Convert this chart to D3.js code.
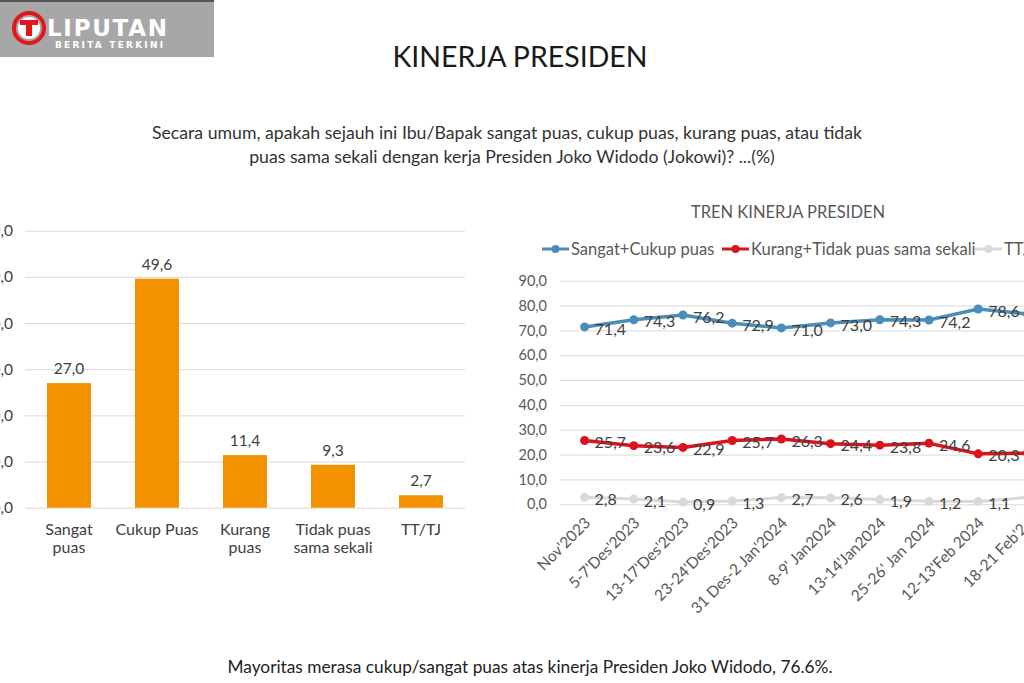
<!DOCTYPE html>
<html><head><meta charset="utf-8">
<script src="https://cdn.jsdelivr.net/npm/d3@7"></script>
<style>
html,body{margin:0;padding:0;background:#fff;overflow:hidden;}
svg{display:block;}
text{font-family:"Lato","Open Sans",sans-serif;}
</style></head>
<body>
<script>
// ---- data ----
const barCategories = [["Sangat","puas"],["Cukup Puas"],["Kurang","puas"],["Tidak puas","sama sekali"],["TT/TJ"]];
const barValues = [27.0, 49.6, 11.4, 9.3, 2.7];
const barTicks = [0,10,20,30,40,50,60];

const trendDates = ["Nov'2023","5-7'Des'2023","13-17'Des'2023","23-24'Des'2023","31 Des-2 Jan'2024","8-9' Jan2024","13-14'Jan2024","25-26' Jan 2024","12-13'Feb 2024","18-21 Feb'24"];
const puas = [71.4, 74.3, 76.2, 72.9, 71.0, 73.0, 74.3, 74.2, 78.6, 76.6];
const tidakPuas = [25.7, 23.6, 22.9, 25.7, 26.3, 24.4, 23.8, 24.6, 20.3, 20.6];
const ttTj = [2.8, 2.1, 0.9, 1.3, 2.7, 2.6, 1.9, 1.2, 1.1, 2.8];
const trendTicks = [0,10,20,30,40,50,60,70,80,90];
const seriesNames = ["Sangat+Cukup puas","Kurang+Tidak puas sama sekali","TT/TJ"];

const fmt = v => d3.format(".1f")(v).replace(".", ",");

const svg = d3.select("body").append("svg").attr("width",1024).attr("height",683);

// ---- logo ----
const logo = svg.append("g");
logo.append("rect").attr("x",0).attr("y",0).attr("width",214).attr("height",57).attr("fill","#a7a7a7");
logo.append("rect").attr("x",0).attr("y",0).attr("width",214).attr("height",2).attr("fill","#555");
logo.append("circle").attr("cx",29).attr("cy",28).attr("r",15).attr("fill","none").attr("stroke","#e3161c").attr("stroke-width",4);
logo.append("circle").attr("cx",29).attr("cy",28).attr("r",11).attr("fill","#fff");
logo.append("rect").attr("x",20).attr("y",20).attr("width",18).attr("height",5).attr("fill","#e3161c");
logo.append("rect").attr("x",26).attr("y",20).attr("width",6).attr("height",16).attr("fill","#e3161c");
logo.append("text").attr("x",47).attr("y",36).attr("fill","#fff").attr("font-weight","bold")
  .attr("font-size",23).style("font-family","'DejaVu Sans',sans-serif").attr("textLength",120).text("LIPUTAN");
logo.append("text").attr("x",55).attr("y",48).attr("fill","#fff").attr("font-weight","bold")
  .attr("font-size",9).style("font-family","'DejaVu Sans',sans-serif").attr("textLength",108).text("BERITA TERKINI");

// ---- titles ----
svg.append("text").attr("x",520).attr("y",67).attr("text-anchor","middle").attr("font-size",28.5)
  .attr("fill","#1a1a1a").text("KINERJA PRESIDEN");
svg.append("text").attr("x",507).attr("y",139).attr("text-anchor","middle").attr("font-size",17.7)
  .attr("fill","#333").text("Secara umum, apakah sejauh ini Ibu/Bapak sangat puas, cukup puas, kurang puas, atau tidak");
svg.append("text").attr("x",512).attr("y",163).attr("text-anchor","middle").attr("font-size",17.7)
  .attr("fill","#333").text("puas sama sekali dengan kerja Presiden Joko Widodo (Jokowi)? ...(%)");
svg.append("text").attr("x",530).attr("y",673).attr("text-anchor","middle").attr("font-size",17.3)
  .attr("fill","#222").text("Mayoritas merasa cukup/sangat puas atas kinerja Presiden Joko Widodo, 76.6%.");

// ---- left bar chart ----
const bx = d3.scaleBand().domain(d3.range(barValues.length)).range([25,465]).paddingInner(0.5).paddingOuter(0.25);
const by = d3.scaleLinear().domain([0,60]).range([507.7,230.7]);
const left = svg.append("g");
const lAxis = left.append("g").attr("transform","translate(25,0)")
  .call(d3.axisLeft(by).tickValues(barTicks).tickFormat(fmt).tickSize(-440).tickPadding(12));
lAxis.select(".domain").remove();
lAxis.selectAll(".tick line").attr("stroke","#d9d9d9");
lAxis.selectAll(".tick text").attr("fill","#404040").attr("font-size",15.5).style("font-family","Lato");
left.selectAll("rect.bar").data(barValues).join("rect").attr("class","bar")
  .attr("x",(d,i)=>bx(i)).attr("width",bx.bandwidth())
  .attr("y",d=>by(d)).attr("height",d=>by(0)-by(d)).attr("fill","#f39200");
left.selectAll("text.val").data(barValues).join("text").attr("class","val")
  .attr("x",(d,i)=>bx(i)+bx.bandwidth()/2).attr("y",d=>by(d)-9)
  .attr("text-anchor","middle").attr("font-size",15.5).attr("fill","#404040").text(fmt);
const cat = left.selectAll("text.cat").data(barCategories).join("text").attr("class","cat")
  .attr("x",(d,i)=>bx(i)+bx.bandwidth()/2).attr("y",535)
  .attr("text-anchor","middle").attr("font-size",16).attr("fill","#404040");
cat.selectAll("tspan").data(d=>d).join("tspan")
  .attr("x",function(){return this.parentNode.getAttribute("x");})
  .attr("dy",(d,i)=>i===0?0:18).text(d=>d);

// ---- right trend chart ----
const tx = d3.scaleBand().domain(trendDates).range([560,1052]);
const ty = d3.scaleLinear().domain([0,90]).range([504.3,280.7]);
const cx = d => tx(d)+tx.bandwidth()/2;
const right = svg.append("g");
right.append("text").attr("x",788).attr("y",218).attr("text-anchor","middle").attr("font-size",16.5)
  .attr("fill","#595959").text("TREN KINERJA PRESIDEN");
const rAxis = right.append("g").attr("transform","translate(560,0)")
  .call(d3.axisLeft(ty).tickValues(trendTicks).tickFormat(fmt).tickSize(-492).tickPadding(13));
rAxis.select(".domain").remove();
rAxis.selectAll(".tick line").attr("stroke","#d9d9d9");
rAxis.selectAll(".tick text").attr("fill","#595959").attr("font-size",14.5).style("font-family","Lato");

right.selectAll("text.xl").data(trendDates).join("text").attr("class","xl")
  .attr("transform",d=>`translate(${cx(d)+3},${520}) rotate(-45)`)
  .attr("text-anchor","end").attr("dy","0.35em").attr("font-size",15.5).attr("fill","#595959").text(d=>d);

const series = [
  {name:seriesNames[0], values:puas, color:"#4a8db8", w:3.5},
  {name:seriesNames[1], values:tidakPuas, color:"#d9141c", w:3.5},
  {name:seriesNames[2], values:ttTj, color:"#d9d9d9", w:3}
];
const line = d3.line().x((d,i)=>cx(trendDates[i])).y(d=>ty(d));
series.slice().reverse().forEach(s=>{
  const g = right.append("g");
  g.append("path").datum(s.values).attr("d",line).attr("fill","none").attr("stroke",s.color).attr("stroke-width",s.w);
  g.selectAll("circle").data(s.values).join("circle")
    .attr("cx",(d,i)=>cx(trendDates[i])).attr("cy",d=>ty(d)).attr("r",4.5).attr("fill",s.color);
});
series.forEach(s=>{
  right.append("g").selectAll("text").data(s.values).join("text")
    .attr("x",(d,i)=>cx(trendDates[i])+10).attr("y",d=>ty(d)+2).attr("dy","0.35em")
    .attr("font-size",16).attr("fill","#404040").text(fmt);
});

// legend
const legX = [542, 722, 975];
const leg = right.selectAll("g.leg").data(series).join("g").attr("class","leg")
  .attr("transform",(d,i)=>`translate(${legX[i]},249)`);
leg.append("line").attr("x1",0).attr("x2",27).attr("stroke",d=>d.color).attr("stroke-width",3);
leg.append("circle").attr("cx",13.5).attr("r",4).attr("fill",d=>d.color);
leg.append("text").attr("x",29).attr("dy","0.35em").attr("font-size",16.5).attr("fill","#595959").text(d=>d.name);
</script>
</body></html>
